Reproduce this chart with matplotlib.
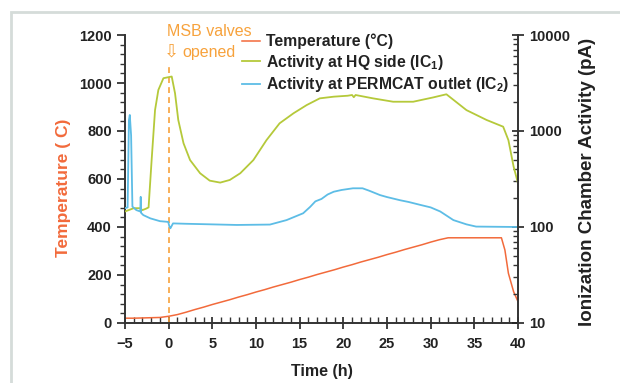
import matplotlib
matplotlib.use('Agg')
import matplotlib.pyplot as plt
from matplotlib.patches import Rectangle
from matplotlib.ticker import MultipleLocator, LogLocator, NullFormatter

# temperature (degC) vs time (h)
temp_t = [-5, -4, -3, -2, -1, 0, 1, 2, 3, 4, 5, 6, 7, 8, 9, 10, 11, 12, 13, 14, 15,
          16, 17, 18, 19, 20, 21, 22, 23, 24, 25, 26, 27, 28, 29, 30, 31, 32,
          38.1, 38.5, 38.9, 39.5, 40]
temp_v = [20, 20, 21, 22, 23, 28, 35, 45, 56, 66, 77, 87, 97, 108, 118, 129, 139, 150, 160, 170, 181,
          191, 202, 212, 222, 233, 243, 254, 264, 274, 285, 295, 306, 316, 326, 337, 347, 355,
          355, 304, 207, 130, 89]

# activity at HQ side, IC1 (pA)
ic1_t = [-5, -4, -3.3, -3.0, -2.6, -2.3, -1.95, -1.56, -1.18, -0.6, 0.35, 0.73, 1.1, 1.7,
         2.45, 3.6, 4.7, 5.9, 7.0, 8.2, 9.7, 11.2, 12.7, 14.3, 15.8, 17.3, 18.9, 20.5,
         21.0, 21.2, 21.4, 23.4, 25.7, 28.0, 30.3, 31.8, 34.1, 36.4, 38.3, 38.9, 39.5, 40]
ic1_v = [145, 157, 157, 150, 155, 160, 498, 1650, 2676, 3548, 3694, 2469, 1303, 746,
         498, 363, 304, 290, 309, 363, 498, 803, 1202, 1531, 1862, 2188, 2278, 2330,
         2371, 2250, 2371, 2188, 2018, 2018, 2239, 2413, 1650, 1303, 1109, 803, 424, 285]

# activity at PERMCAT outlet, IC2 (pA)
ic2_t = [-5, -4.7, -4.55, -4.45, -4.3, -4.15, -3.7, -3.25, -3.2, -3.15, -2.9, -2.1, -1,
         -0.05, 0.1, 0.2, 0.5, 2, 4, 7.8, 11.6, 13.5, 15.4, 16.2, 16.8, 17.5, 18.2, 18.9,
         19.8, 21.1, 22.2, 23.0, 24.2, 25.0, 26.5, 27.5, 28.8, 30.0, 31.1, 32.6, 34.1, 35.2, 40]
ic2_v = [157, 160, 1300, 1470, 900, 163, 150, 145, 206, 140, 133, 123, 115,
         113, 100, 97, 109, 108, 107, 105, 106, 118, 139, 162, 185, 196, 218, 233,
         243, 253, 253, 238, 215, 205, 190, 182, 170, 160, 145, 118, 106.5, 101, 100]

c_temp = '#f26a3b'
c_ic1 = '#b5c93a'
c_ic2 = '#5dbde6'
c_msb = '#f7a23c'

plt.rcParams['font.family'] = ['Liberation Sans', 'DejaVu Sans']
plt.rcParams['font.weight'] = 'bold'
plt.rcParams['axes.labelweight'] = 'bold'
plt.rcParams['mathtext.fontset'] = 'custom'
plt.rcParams['mathtext.bf'] = 'Liberation Sans:bold'
plt.rcParams['mathtext.rm'] = 'Liberation Sans:bold'
plt.rcParams['mathtext.default'] = 'bf'

fig = plt.figure(figsize=(6.2, 3.83), dpi=100)
ax = fig.add_axes([0.2016, 0.1567, 0.6339, 0.7519])

# light gray panel frame
fig.patches.append(Rectangle((11 / 620, -0.2), 1.2, 1.2 - 12 / 383,
                             transform=fig.transFigure, fill=False,
                             edgecolor='#d5dcd9', linewidth=2))

l1, = ax.plot(temp_t, temp_v, color=c_temp, lw=1.1, label='Temperature (°C)')
ax.plot([0, 0], [0, 1065], color=c_msb, lw=1.2, ls=(0, (3.5, 2.5)))
ax.set_xlim(-5, 40)
ax.set_ylim(0, 1200)
ax.xaxis.set_major_locator(MultipleLocator(5))
ax.xaxis.set_minor_locator(MultipleLocator(1))
ax.yaxis.set_major_locator(MultipleLocator(200))
ax.yaxis.set_minor_locator(MultipleLocator(40))
ax.tick_params(axis='y', which='major', direction='out', length=6, width=1.2, labelsize=10.5, colors='#222222')
ax.tick_params(axis='y', which='minor', direction='out', length=3.5, width=1, colors='#333333')
ax.tick_params(axis='x', which='major', direction='inout', length=8, width=1.2, labelsize=10.5, pad=6, colors='#222222')
ax.tick_params(axis='x', which='minor', direction='in', length=4, width=1, colors='#333333')
for s in ['top', 'right']:
    ax.spines[s].set_visible(False)
for s in ['left', 'bottom']:
    ax.spines[s].set_linewidth(1.4)
    ax.spines[s].set_color('#333333')

ax.set_xlabel('Time (h)', fontsize=11.5, fontweight='bold', color='#222222')
ax.xaxis.set_label_coords(0.5, -0.142)
ax.set_ylabel('Temperature ( C)', fontsize=12.5, fontweight='bold', color=c_temp)
ax.yaxis.set_label_coords(-0.137, 0.469)

ax2 = ax.twinx()
l2, = ax2.plot(ic1_t, ic1_v, color=c_ic1, lw=1.3, label='Activity at HQ side (IC$_1$)')
l3, = ax2.plot(ic2_t, ic2_v, color=c_ic2, lw=1.3, label='Activity at PERMCAT outlet (IC$_2$)')
ax2.set_yscale('log')
ax2.set_ylim(10, 10000)
ax2.set_yticks([10, 100, 1000, 10000])
ax2.set_yticklabels(['10', '100', '1000', '10000'])
ax2.yaxis.set_minor_locator(LogLocator(subs=range(2, 10)))
ax2.yaxis.set_minor_formatter(NullFormatter())
ax2.tick_params(axis='y', which='major', direction='inout', length=8, width=1.2, labelsize=10.5, pad=4, colors='#222222')
ax2.tick_params(axis='y', which='minor', direction='in', length=3.5, width=1, colors='#333333')
for s in ['top', 'left', 'bottom']:
    ax2.spines[s].set_visible(False)
ax2.spines['right'].set_linewidth(1.4)
ax2.spines['right'].set_color('#333333')
ax2.set_ylabel('Ionization Chamber Activity (pA)', fontsize=13.5, fontweight='bold', color='#222222')
ax2.yaxis.set_label_coords(1.155, 0.49)

ax2.legend(handles=[l1, l2, l3], loc='upper left', bbox_to_anchor=(0.298, 1.005),
           frameon=False, borderpad=0, borderaxespad=0, handlelength=1.15,
           handletextpad=0.4, labelspacing=0.22,
           prop={'family': 'Liberation Sans', 'weight': 'bold', 'size': 11.3},
           labelcolor='#222222')

fig.text(209 / 620, 1 - 31 / 383, 'MSB valves', ha='center', va='center',
         fontsize=11.5, fontweight='normal', color=c_msb)
fig.text(164 / 620, 1 - 52 / 383, '⇩', ha='left', va='center', fontsize=13,
         fontweight='normal', family='DejaVu Sans', color=c_msb)
fig.text(182 / 620, 1 - 52 / 383, 'opened', ha='left', va='center', fontsize=11.5,
         fontweight='normal', color=c_msb)

fig.savefig('out.png', dpi=100)
